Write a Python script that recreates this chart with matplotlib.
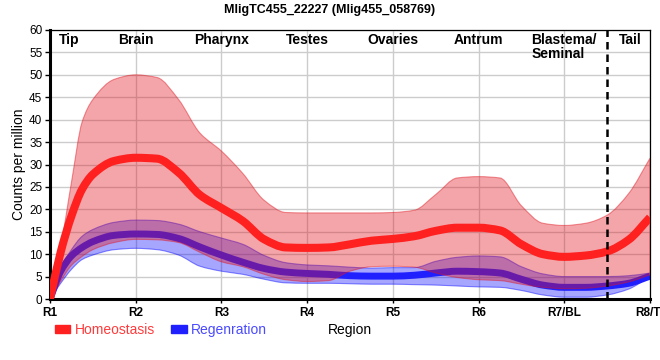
import numpy as np
import matplotlib
matplotlib.use("Agg")
import matplotlib.pyplot as plt
from matplotlib.patches import Patch, PathPatch
from matplotlib.path import Path

plt.rcParams['font.family'] = ['Liberation Sans', 'DejaVu Sans']

# positions along the body (R1 = 1 ... R8 = 8)
pos = [1.0, 1.125, 1.25, 1.375, 1.5, 1.75, 2.0, 2.25, 2.5, 2.75, 3.0, 3.25, 3.5, 3.75,
       4.0, 4.25, 4.5, 4.75, 5.0, 5.25, 5.5, 5.75, 6.0, 6.25, 6.5, 6.75, 7.0, 7.25,
       7.5, 7.75, 8.0]

homeo_mean = [0, 10.5, 18.5, 24.5, 27.8, 30.8, 31.5, 31.3, 28.2, 23.2, 20.3, 17.4, 13.3, 11.5,
              11.4, 11.5, 12.2, 13.0, 13.4, 14.0, 15.2, 15.9, 15.9, 15.3, 12.2, 10.0, 9.4, 9.7,
              10.6, 13.2, 18.2]
homeo_hi = [0, 11.5, 26, 39.5, 44.5, 49, 50, 49.4, 44.5, 37, 33, 28, 22, 19.3,
            19.2, 19.2, 19.2, 19.2, 19.3, 19.8, 23.3, 27, 27.3, 27, 20.8, 16.9, 16.4, 16.9,
            18.7, 23.5, 31.4]
homeo_lo = [0, 4, 7.5, 9.5, 11, 12.6, 13.3, 13.2, 12.6, 10.4, 8.3, 7.2, 5.5, 4.3,
            3.9, 4.1, 6.2, 7.2, 7.3, 7.1, 5.8, 4.8, 4.3, 4.1, 3.3, 2.6, 2.3, 2.4,
            2.9, 3.8, 5.4]

regen_mean = [0, 6.2, 9.6, 11.5, 12.8, 14.2, 14.5, 14.4, 13.5, 11.6, 9.8, 8.2, 6.8, 6.0,
              5.7, 5.5, 5.2, 5.1, 5.1, 5.3, 5.8, 6.2, 6.1, 5.8, 4.4, 3.1, 2.6, 2.6,
              2.9, 3.5, 5.1]
regen_hi = [0, 6.8, 11, 14, 15.5, 17.1, 17.6, 17.5, 16.7, 15.0, 13.6, 12.2, 9.7, 8.1,
            7.6, 7.4, 7.1, 6.9, 7.0, 7.0, 8.4, 9.3, 9.6, 9.4, 7.2, 5.6, 5.0, 5.0,
            5.0, 5.2, 5.8]
regen_lo = [0, 3.5, 6.6, 8.8, 9.8, 11.0, 11.3, 11.0, 9.8, 7.3, 6.2, 5.5, 4.4, 3.6,
            3.5, 3.5, 3.4, 3.3, 3.3, 3.2, 3.1, 2.9, 2.7, 2.6, 1.9, 0.9, 0.4, 0.4,
            0.9, 2.2, 5.0]

tick_pos = [1, 2, 3, 4, 5, 6, 7, 8]
tick_labels = ["R1", "R2", "R3", "R4", "R5", "R6", "R7/BL", "R8/TI"]
region_pos = [1.22, 2, 3, 4, 5, 6, 7, 7.77]
region_names = ["Tip", "Brain", "Pharynx", "Testes", "Ovaries", "Antrum", "Blastema/\nSeminal", "Tail"]
cut_pos = 7.5

red = '#ff2020'
blue = '#2020ff'


def bezier(xs, ys):
    # smooth monotone bezier through the points (like the original chart's curve drawing)
    xs = np.asarray(xs, float)
    ys = np.asarray(ys, float)
    h = np.diff(xs)
    d = np.diff(ys) / h
    m = np.zeros_like(ys)
    m[0], m[-1] = d[0], d[-1]
    for k in range(1, len(xs) - 1):
        if d[k - 1] * d[k] > 0:
            w1 = 2 * h[k] + h[k - 1]
            w2 = h[k] + 2 * h[k - 1]
            m[k] = (w1 + w2) / (w1 / d[k - 1] + w2 / d[k])
    verts = [(xs[0], ys[0])]
    for k in range(len(xs) - 1):
        verts.append((xs[k] + h[k] / 3, ys[k] + m[k] * h[k] / 3))
        verts.append((xs[k + 1] - h[k] / 3, ys[k + 1] - m[k + 1] * h[k] / 3))
        verts.append((xs[k + 1], ys[k + 1]))
    return verts


def curve(ax, xs, ys, **kw):
    v = bezier(xs, ys)
    codes = [Path.MOVETO] + [Path.CURVE4] * (len(v) - 1)
    ax.add_patch(PathPatch(Path(v, codes), fill=False, **kw))


def band(ax, xs, lo, hi, **kw):
    top = bezier(xs, hi)
    bot = bezier(xs[::-1], lo[::-1])
    v = top + [bot[0]] + bot[1:] + [top[0]]
    codes = ([Path.MOVETO] + [Path.CURVE4] * (len(top) - 1) + [Path.LINETO]
             + [Path.CURVE4] * (len(bot) - 1) + [Path.CLOSEPOLY])
    ax.add_patch(PathPatch(Path(v, codes), **kw))


fig = plt.figure(figsize=(6.6, 3.6), dpi=100)
ax = fig.add_axes([50 / 660, 1 - 299 / 360, 600 / 660, 269 / 360])

band(ax, pos, regen_lo, regen_hi, facecolor=(0.0, 0.0, 1.0, 0.35),
     edgecolor=(0.0, 0.0, 1.0, 0.45), linewidth=0.8, zorder=1)
curve(ax, pos, regen_mean, edgecolor=blue, lw=5, joinstyle='round', capstyle='butt', zorder=2)
band(ax, pos, homeo_lo, homeo_hi, facecolor=(0.88, 0.08, 0.12, 0.38),
     edgecolor=(0.88, 0.08, 0.12, 0.45), linewidth=0.8, zorder=3)
curve(ax, pos, homeo_mean, edgecolor=red, lw=5.8, joinstyle='round', capstyle='butt', zorder=4)

ax.axvline(cut_pos, color='black', lw=1.8, dashes=(3, 2), zorder=5)

for x, name in zip(region_pos, region_names):
    ax.text(x, 59.4, name, ha='center', va='top', fontsize=10, fontweight='bold',
            multialignment='left', linespacing=1.0, zorder=6)

ax.set_xlim(1, 8)
ax.set_ylim(0, 60)
ax.set_yticks(range(0, 61, 5))
ax.set_xticks(tick_pos)
ax.set_xticklabels(tick_labels, fontsize=8.5, fontweight='bold')
ax.tick_params(axis='y', labelsize=8.5, length=3.5, width=1, pad=2)
ax.tick_params(axis='x', length=3, width=1, pad=3)
ax.grid(True, color='#cccccc', lw=1)
ax.set_axisbelow(True)

for s in ['left', 'bottom']:
    ax.spines[s].set_linewidth(2.2)
for s in ['top', 'right']:
    ax.spines[s].set_linewidth(0.9)

ax.set_ylabel('Counts per million', fontsize=10, va='center')
ax.yaxis.set_label_coords(-31 / 600, 0.5)
ax.set_xlabel('Region', fontsize=10, va='center')
ax.xaxis.set_label_coords(0.5, -31 / 269)

fig.suptitle('MligTC455_22227 (Mlig455_058769)', fontsize=9, fontweight='bold', x=0.5, y=0.972, va='center')

handles = [Patch(color=red, label='Homeostasis'), Patch(color=blue, label='Regenration')]
ax.legend(handles=handles, ncol=2, loc='center left', bbox_to_anchor=(5 / 600, -31 / 269),
          frameon=False, borderpad=0, borderaxespad=0, handlelength=1.1, handleheight=0.5,
          handletextpad=0.3, columnspacing=1.2, fontsize=10,
          labelcolor=['#ff3b3b', '#4a4aff'])

fig.savefig('out.png', dpi=100)
